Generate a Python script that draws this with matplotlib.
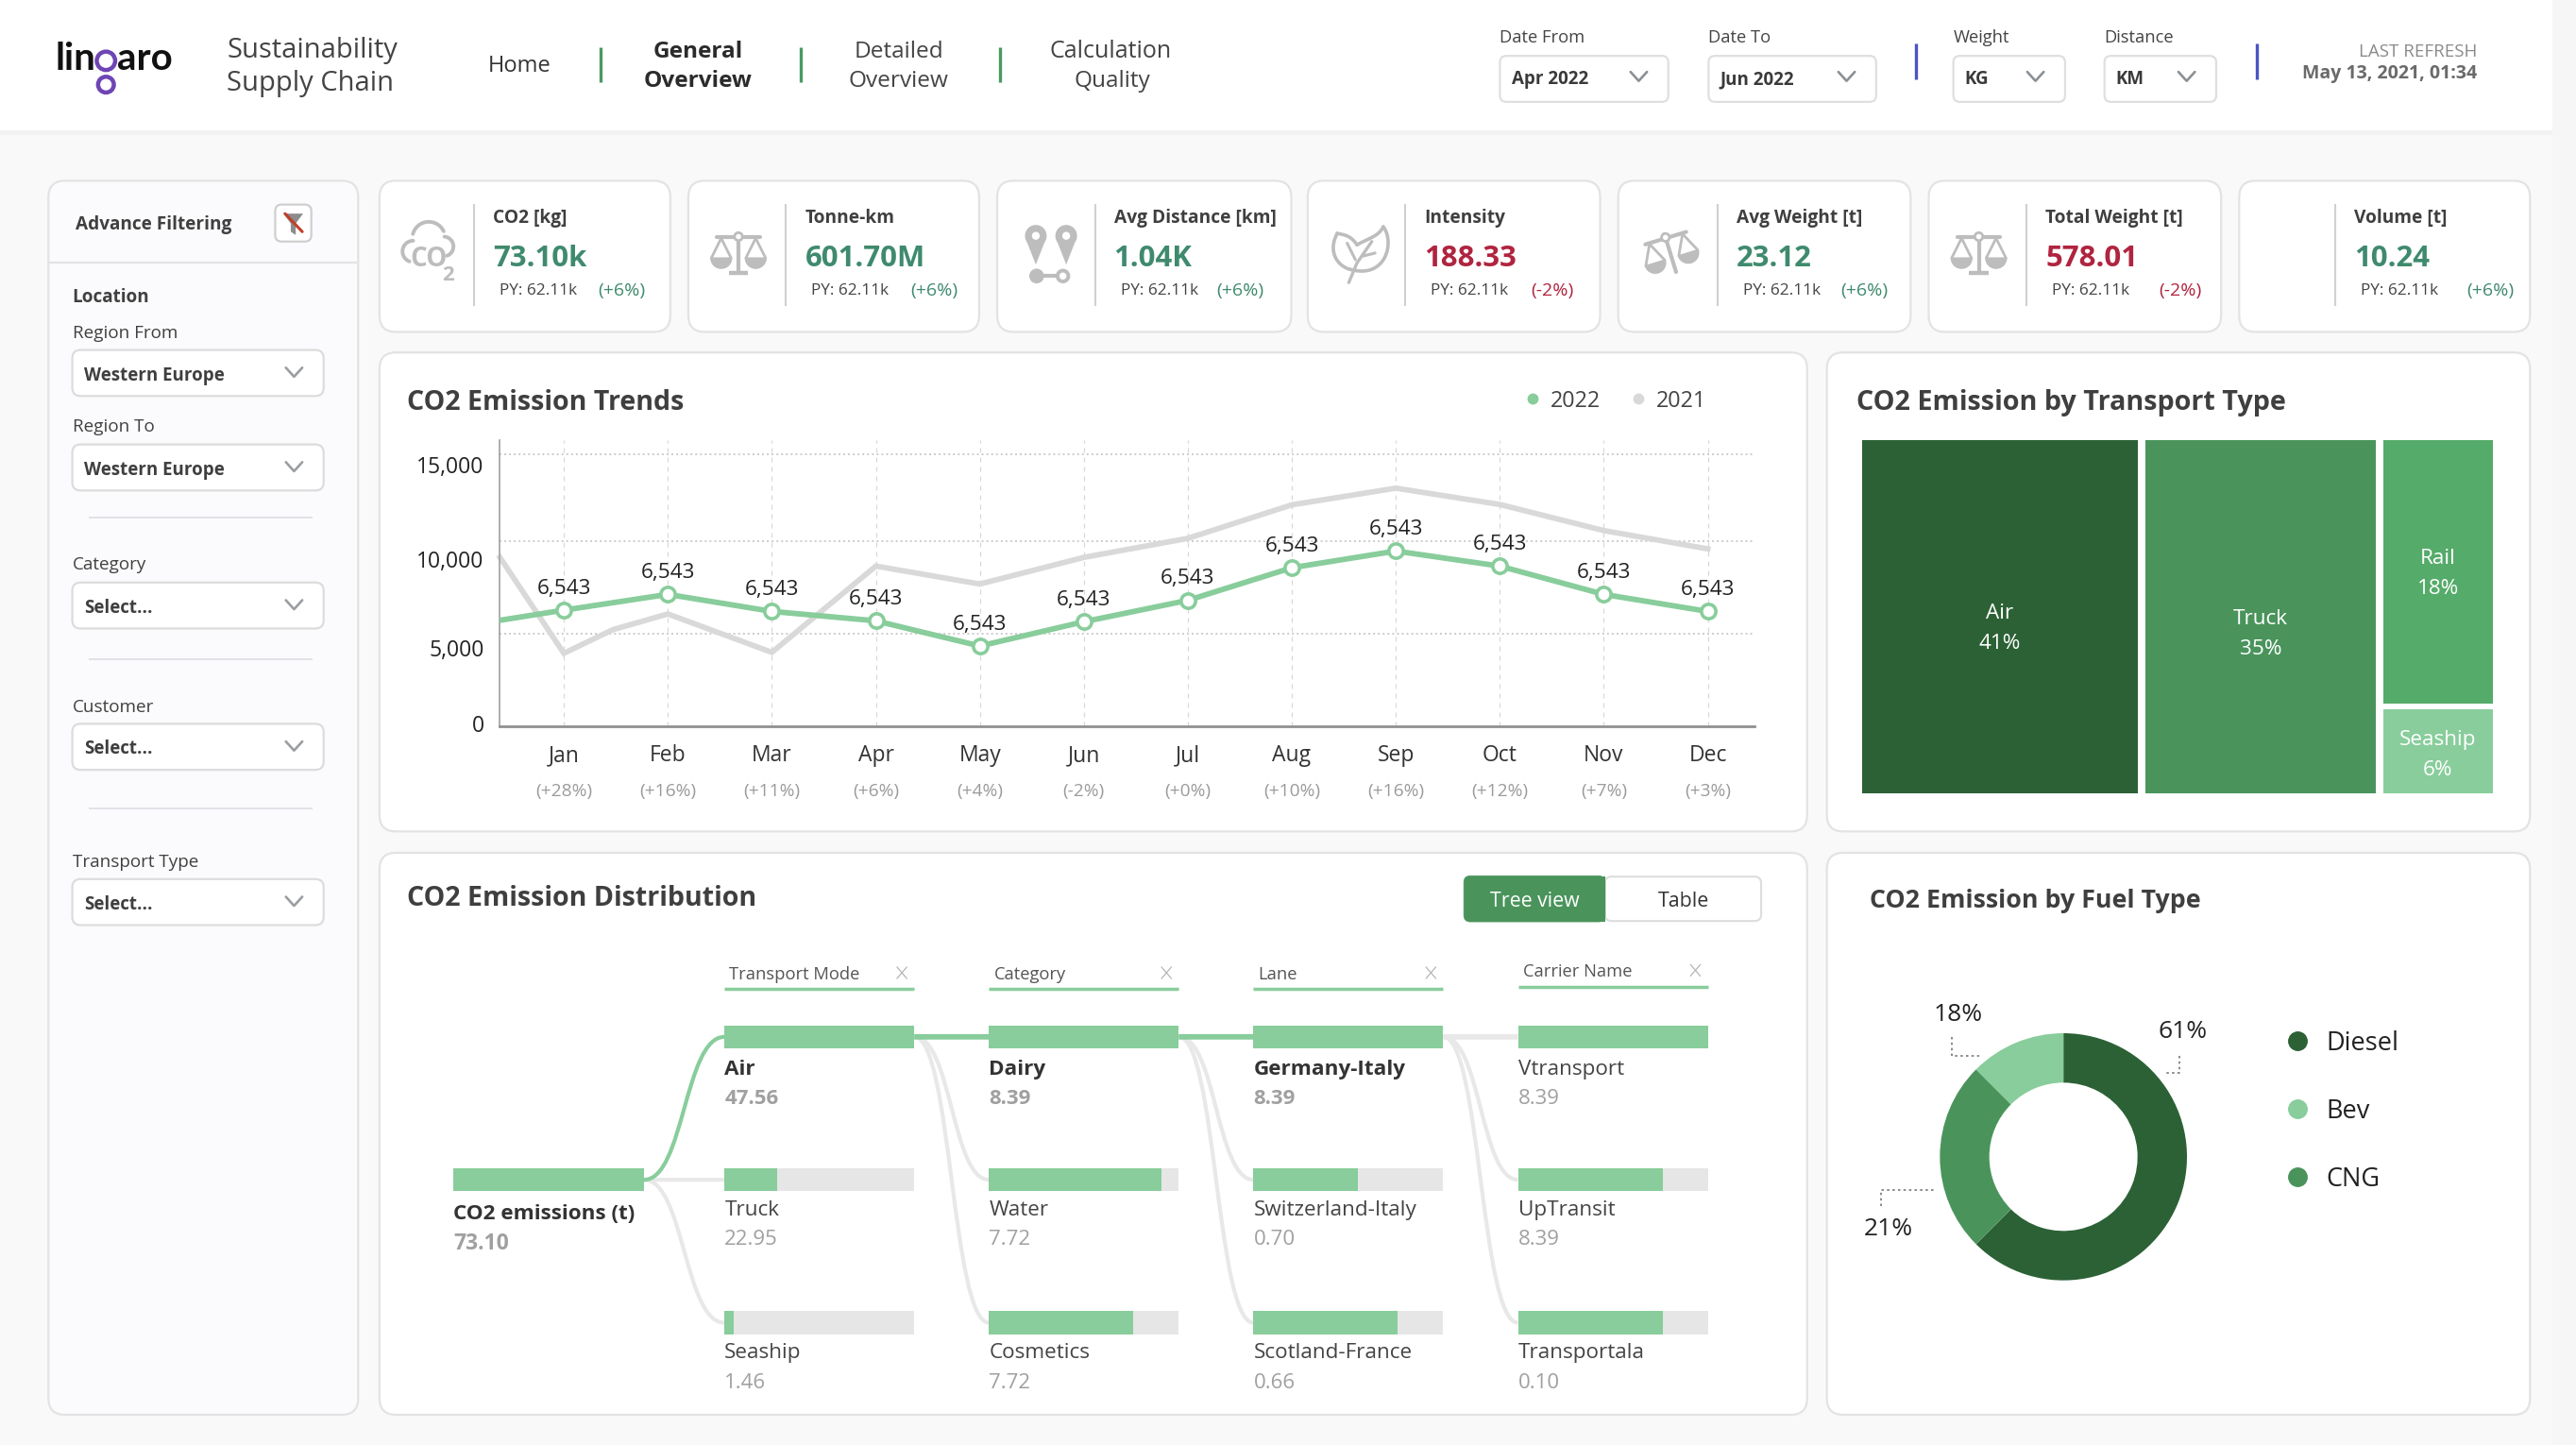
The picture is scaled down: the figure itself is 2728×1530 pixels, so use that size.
import numpy as np
import matplotlib
matplotlib.use("Agg")
import matplotlib.pyplot as plt
from matplotlib.patches import FancyBboxPatch, Circle, Rectangle, PathPatch, Polygon
from matplotlib.path import Path
from matplotlib.lines import Line2D

plt.rcParams['font.family'] = ['Open Sans', 'Noto Sans', 'DejaVu Sans']

# ---------- data ----------
months = ['Jan','Feb','Mar','Apr','May','Jun','Jul','Aug','Sep','Oct','Nov','Dec']
month_change = ['(+28%)','(+16%)','(+11%)','(+6%)','(+4%)','(-2%)','(+0%)','(+10%)','(+16%)','(+12%)','(+7%)','(+3%)']
x_2022 = [-0.615,0,1,2,3,4,5,6,7,8,9,10,11]
co2_2022 = [5830,6390,7260,6320,5800,4410,5750,6930,8730,9650,8820,7260,6320]
x_2021 = [-0.615,0,0.47,1,2,3,4,5,6,7,8,9,10,11]
co2_2021 = [9300,4010,5310,6180,4060,8820,7830,9300,10350,12200,13120,12220,10780,9770]
point_label = '6,543'
y_tick_pos = [150,4300,9220,14430]
y_tick_labels = ['0','5,000','10,000','15,000']
grid_vals = [5100,10200,15000]

tree_names = ['Air','Truck','Rail','Seaship']
tree_pct = ['41%','35%','18%','6%']
tree_area = [44.8,37.4,13.5,4.3]
tree_colors = ['#2c6135','#4a945c','#55ab69','#88cd9b']

fuel_names = ['Diesel','CNG','Bev']
fuel_pct = ['61%','21%','18%']
fuel_share = [62.5,25.0,12.5]
fuel_colors = ['#2c6135','#4a945c','#88cd9b']

kpi_titles = ['CO2 [kg]','Tonne-km','Avg Distance [km]','Intensity','Avg Weight [t]','Total Weight [t]','Volume [t]']
kpi_values = ['73.10k','601.70M','1.04K','188.33','23.12','578.01','10.24']
kpi_py = ['PY: 62.11k']*7
kpi_delta = ['(+6%)','(+6%)','(+6%)','(-2%)','(+6%)','(-2%)','(+6%)']

col_heads = ['Transport Mode','Category','Lane','Carrier Name']
col_names = [['Air','Truck','Seaship'],['Dairy','Water','Cosmetics'],
             ['Germany-Italy','Switzerland-Italy','Scotland-France'],['Vtransport','UpTransit','Transportala']]
col_vals = [['47.56','22.95','1.46'],['8.39','7.72','7.72'],['8.39','0.70','0.66'],['8.39','8.39','0.10']]
col_fill = [[1.0,0.277,0.049],[1.0,0.908,0.758],[1.0,0.55,0.758],[1.0,0.762,0.762]]

# ---------- canvas (overlay in 1568-wide layout units) ----------
W, H = 1568.0, 879.4
fig = plt.figure(figsize=(27.28,15.30), dpi=100, facecolor='#f9f9f9')
ov = fig.add_axes([0,0,1,1], zorder=0)
ov.set_xlim(0,W); ov.set_ylim(H,0); ov.axis('off')

GREEN='#88cd9b'; MID='#4a945c'; DARK='#3f3f3f'; BORDER='#e3e3e3'; GRAY='#bdbdbd'
UP='#3f8a6e'; DOWN='#b0243f'

def T(x,y,s,size=12,color=DARK,weight='normal',ha='left',va='center',ax=ov,**k):
    return ax.text(x,y+1.0,s,fontsize=size,color=color,fontweight=weight,ha=ha,va=va,**k)
def box(x0,y0,x1,y1,r=9,fc='white',ec=BORDER,lw=1.6,z=1):
    p=FancyBboxPatch((x0+r,y0+r),x1-x0-2*r,y1-y0-2*r,boxstyle=f'round,pad={r},rounding_size={r}',fc=fc,ec=ec,lw=lw,zorder=z)
    ov.add_patch(p); return p
def L(xs,ys,c=GRAY,lw=1.5,z=3,**k):
    ov.plot(xs,ys,color=c,lw=lw,zorder=z,solid_capstyle=k.pop('cap','round'),**k)
def chevron(x,y,w=5,h=5.5,c='#8b9095'):
    L([x-w,x,x+w],[y-h/2,y+h/2,y-h/2],c=c,lw=1.9)
def arc(cx,cy,r,a0,a1,c=GRAY,lw=2.8):
    a=np.radians(np.linspace(a0,a1,40))
    L(cx+r*np.cos(a),cy-r*np.sin(a),c=c,lw=lw)

# right strip + header
ov.add_patch(Rectangle((1553.5,0),W-1553.5,H,fc='#f6f6f6',ec='none',zorder=0))
ov.add_patch(Rectangle((0,0),1553.5,79.5,fc='white',ec='none',zorder=1))
ov.add_patch(Rectangle((0,79.5),1553.5,2.5,fc='#f2f2f2',ec='none',zorder=1))

# logo
T(33.5,35,'lin',29,'#111111',weight='bold',ha='left',family='Lato',zorder=4)
T(71.5,35,'aro',29,'#111111',weight='bold',ha='left',family='Lato',zorder=4)
for cy,r in ((37,5.6),(51.5,4.8)):
    ov.add_patch(Circle((64.5,cy),r,fc='none',ec='#6f45b5',lw=3.2,zorder=4))

T(138,30,'Sustainability',21,'#444444',zorder=4)
T(138,50,'Supply Chain',21,'#444444',zorder=4)
T(316,39.5,'Home',17,'#333333',ha='center',zorder=4)
T(425,30.5,'General',17.6,'#2b2b2b','bold',ha='center',zorder=4)
T(425,48.5,'Overview',17.6,'#2b2b2b','bold',ha='center',zorder=4)
T(547,30.5,'Detailed',17.6,'#444444',ha='center',zorder=4)
T(547,48.5,'Overview',17.6,'#444444',ha='center',zorder=4)
T(676,30.5,'Calculation',18,'#444444',ha='center',zorder=4)
T(677,48.5,'Quality',17.6,'#444444',ha='center',zorder=4)
for x in (365.5,487.5,608.5):
    L([x,x],[28.5,50],c='#4a9a60',lw=2.4,cap='butt')
for x in (1166,1373.5):
    L([x,x],[26.5,48],c='#4a55c0',lw=2.4,cap='butt')

for (x0,x1,lab,val) in ((913,1015.5,'Date From','Apr 2022'),(1040,1142,'Date To','Jun 2022'),
                        (1189,1257,'Weight','KG'),(1281,1349,'Distance','KM')):
    T(x0,22,lab,13.2,'#444444',zorder=4)
    box(x0,34,x1,62,r=4,ec='#dfdfdf')
    T(x0+7,47.5,val,13.5,'#3a3a3a','bold',zorder=4)
    chevron(x1-18,46.5,c='#8b9095')
T(1508,30.5,'LAST REFRESH',13.5,'#8a8a8a',ha='right',zorder=4)
T(1508,44,'May 13, 2021, 01:34',14,'#6a6a6a','bold',ha='right',zorder=4)

# sidebar
box(29.5,110,218,861,r=10,fc='#fbfbfd')
L([30,217.5],[160,160],c=BORDER,lw=1.6,cap='butt')
T(46,136,'Advance Filtering',13.7,'#404040','bold',zorder=4)
box(167.5,124.5,189.5,147,r=4,ec='#cfcfcf')
ov.add_patch(Polygon([(172.5,130),(184.5,130),(180,136),(180,143),(177,141),(177,136)],fc='#8c8c8c',ec='none',zorder=4))
L([173.5,184],[130,141],c='#c0402a',lw=2.2,z=5)
T(44,180,'Location',13.6,'#404040','bold',zorder=4)
for (lab,ly,val,y0) in (('Region From',202,'Western Europe',213),('Region To',259,'Western Europe',270.5),
                        ('Category',343,'Select...',354.5),('Customer',429.5,'Select...',440.5),
                        ('Transport Type',523.5,'Select...',535)):
    T(44,ly,lab,13.6,'#404040',zorder=4)
    box(44,y0,197,y0+28,r=5,ec='#dcdcdc')
    T(51,y0+14.5,val,13.5,'#3f3f3f','bold',zorder=4)
    chevron(179,y0+13.5,c='#9a9ea3')
for y in (315,401,492):
    L([54,190],[y,y],c='#dfe0e6',lw=1.3,cap='butt')

# KPI cards
card_x = [(231,408),(419,596),(607,786),(796,974),(985,1163),(1174,1352),(1363,1540)]
tx_x = [300,490,678,867,1057,1245,1433]
d_x  = [393,583,769,958,1149,1340,1530]
for i,(x0,x1) in enumerate(card_x):
    box(x0,110,x1,202,r=10)
    tx=tx_x[i]
    L([tx-11.5,tx-11.5],[124,186],c='#d0d0d0',lw=1.5,cap='butt')
    T(tx,132,kpi_titles[i],13.8,DARK,'bold',zorder=4)
    good = kpi_delta[i].startswith('(+')
    T(tx,156.5,kpi_values[i],22.4,UP if good else DOWN,'bold',zorder=4)
    T(tx+4,176,kpi_py[i],12.4,'#444444',zorder=4)
    T(d_x[i],176,kpi_delta[i],14,UP if good else DOWN,ha='right',zorder=4)

def scales(cx,cy,rot=0):
    c=GRAY
    a=np.radians(rot); R=np.array([[np.cos(a),-np.sin(a)],[np.sin(a),np.cos(a)]])
    def P(pts):
        q=np.array(pts,float)@R.T
        return q[:,0]+cx,q[:,1]+cy
    x,y=P([(0,-13),(0,11)]); L(x,y,c=c,lw=3)
    x,y=P([(-13,-10.5),(13,-10.5)]); L(x,y,c=c,lw=3)
    for sx in (-10.5,10.5):
        x,y=P([(sx-6,2),(sx,-10),(sx+6,2)]); L(x,y,c=c,lw=2)
        t=np.radians(np.linspace(0,180,20))
        pts=[(sx+6.3*np.cos(v),2+6.3*np.sin(v)) for v in t]
        x,y=P(pts); ov.fill(x,y,color=c,zorder=3)
    x,y=P([(0,-11)]); ov.add_patch(Circle((x[0],y[0]),2.4,fc='white',ec=c,lw=2,zorder=4))
    if rot==0: L([cx-6,cx+6],[cy+11,cy+11],c=c,lw=3.2,cap='butt')

# cloud
arc(251.5,153,6.5,90,250); arc(261,145,10,25,165); arc(270,150,6,-70,85)
T(261,157,'CO',20,GRAY,'bold',ha='center',zorder=4)
T(273,166.5,'2',16,GRAY,'bold',ha='center',zorder=4)
scales(449.5,155)
# pins
for cx in (630.5,649):
    ov.add_patch(Polygon([(cx-6.3,145),(cx+6.3,145),(cx,161)],fc=GRAY,ec='none',zorder=3))
    ov.add_patch(Circle((cx,143.5),6.6,fc=GRAY,ec='none',zorder=3))
    ov.add_patch(Circle((cx,143.5),2.4,fc='white',ec='none',zorder=4))
ov.add_patch(Circle((631,168),4.5,fc=GRAY,ec='none',zorder=3))
ov.add_patch(Circle((647,168),3.3,fc='white',ec=GRAY,lw=2.8,zorder=3))
L([631,644],[168,168],c=GRAY,lw=3)
# leaf
lx,ly=828,155
t=np.linspace(0,1,30)
def bez(p0,p1,p2,p3):
    p0,p1,p2,p3=map(np.array,(p0,p1,p2,p3))
    return np.outer((1-t)**3,p0)+np.outer(3*(1-t)**2*t,p1)+np.outer(3*(1-t)*t**2,p2)+np.outer(t**3,p3)
for pts in (((lx-6,ly+9),(lx+16,ly+15),(lx+21,ly-8),(lx+14,ly-17)),
            ((lx+14,ly-17),(lx+11,ly-11),(lx+5,ly-10),(lx-2,ly-6)),
            ((lx-2,ly-6),(lx-6,ly-12),(lx-10,ly-12),(lx-14,ly-13)),
            ((lx-14,ly-13),(lx-20,ly-2),(lx-14,ly+7),(lx-6,ly+9))):
    b=bez(*pts); L(b[:,0],b[:,1],c=GRAY,lw=2.6)
L([lx-7,lx-2,lx+7],[ly+17,ly+5,ly-8],c=GRAY,lw=2.4)
L([lx-8,lx-3],[ly-7,ly+3],c=GRAY,lw=2.2); L([lx+1,lx+9],[ly+1,ly-1],c=GRAY,lw=2.2)
scales(1017,155,rot=-17)
scales(1204.5,155)

# chart panels
box(231,214.5,1100,506,r=10)
box(1112,214.5,1540,506,r=10)
box(231,519,1100,861,r=10)
box(1112,519,1540,861,r=10)
T(248,244,'CO2 Emission Trends',20.6,DARK,'bold',zorder=4)
T(1130,244,'CO2 Emission by Transport Type',20.7,DARK,'bold',zorder=4)
T(248,546,'CO2 Emission Distribution',20.6,DARK,'bold',zorder=4)
T(1138,547.5,'CO2 Emission by Fuel Type',19.3,DARK,'bold',zorder=4)

def axes_at(x0,y0,x1,y1,z=2):
    a=fig.add_axes([x0/W,1-y1/H,(x1-x0)/W,(y1-y0)/H],zorder=z); a.patch.set_alpha(0); return a

# ---------- line chart ----------
ax=axes_at(304.3,267.9,1068,441.8)
ax.set_xlim(-0.615,11.45); ax.set_ylim(0,15766)
ax.vlines(range(12),0,15766,color='#d8d8d8',lw=0.9,ls=(0,(4,4)),zorder=1)
ax.hlines(grid_vals,-0.615,11.45,color='#cccccc',lw=1.4,ls=(0,(1,1.6)),zorder=1)
ax.plot(x_2021,co2_2021,color='#d9d9d9',lw=4.2,solid_joinstyle='miter',zorder=2,clip_on=False,label='2021')
ax.plot(x_2022,co2_2022,color=GREEN,lw=4.2,zorder=3,label='2022')
ax.plot(x_2022[1:],co2_2022[1:],ls='none',marker='o',ms=11,mfc='white',mec=GREEN,mew=2.6,zorder=4,clip_on=False)
for i,v in enumerate(co2_2022[1:]):
    ax.annotate(point_label,(i,v),xytext=(0,16.5),textcoords='offset points',ha='center',va='center',fontsize=16.2,color='#222222',zorder=5)
for s in ('top','right'): ax.spines[s].set_visible(False)
ax.spines['left'].set_color('#a0a0a0'); ax.spines['left'].set_linewidth(1.2)
ax.spines['bottom'].set_color('#909090'); ax.spines['bottom'].set_linewidth(2)
ax.set_yticks(y_tick_pos,y_tick_labels,fontsize=16.5,color='#222222')
ax.set_xticks(range(12),months,fontsize=16.5,color='#333333')
ax.tick_params(length=0); ax.tick_params(axis='y',pad=12); ax.tick_params(axis='x',pad=14)
for i,s in enumerate(month_change):
    ax.annotate(s,(i,0),xytext=(0,-50),textcoords='offset points',ha='center',va='center',fontsize=13.8,color='#9b9b9b',annotation_clip=False)
ax.legend(handles=[Line2D([],[],ls='none',marker='o',ms=7.5,color=GREEN,label='2022'),
                   Line2D([],[],ls='none',marker='o',ms=7.5,color='#d9d9d9',label='2021')],
          ncol=2,frameon=False,loc='center left',bbox_to_anchor=(926/W,1-244/H),bbox_transform=fig.transFigure,
          fontsize=16.8,labelcolor='#444444',handlelength=1.0,handletextpad=0.3,columnspacing=1.25,borderpad=0,borderaxespad=0)

# ---------- treemap ----------
tm=axes_at(1133.5,267.9,1517.4,482.8)
tm.axis('off'); tm.set_xlim(0,100); tm.set_ylim(0,100)
gap_x=100*4.6/383.9; gap_y=100*3.4/214.9
wtot=sum(tree_area)
avail=100-2*gap_x
w0=avail*tree_area[0]/wtot; w1=avail*tree_area[1]/wtot; w2=avail*(tree_area[2]+tree_area[3])/wtot
hr=(100-gap_y)*tree_area[3]/(tree_area[2]+tree_area[3])
cells=[(0,0,w0,100),(w0+gap_x,0,w1,100),(w0+w1+2*gap_x,hr+gap_y,w2,100-hr-gap_y),(w0+w1+2*gap_x,0,w2,hr)]
label_drop=[3.4,5.0,0.5,1.0]
for (x,y,w,h),n,p,c,d in zip(cells,tree_names,tree_pct,tree_colors,label_drop):
    tm.bar(x,h,w,y,align='edge',color=c,lw=0)
    tm.text(x+w/2,y+h/2-d+4.3,n,ha='center',va='center',color='white',fontsize=16.2)
    tm.text(x+w/2,y+h/2-d-4.3,p,ha='center',va='center',color='white',fontsize=16.2)

# ---------- donut ----------
cx,cy,R=1256,704,75.2
pa=axes_at(cx-R,cy-R,cx+R,cy+R)
pa.pie(fuel_share,colors=fuel_colors,startangle=90,counterclock=False,radius=1,
       wedgeprops=dict(width=0.4,lw=0),labels=None)
pa.set_xlim(-1,1); pa.set_ylim(-1,1); pa.set_aspect('equal')
order=[0,2,1]
pa.legend(handles=[Line2D([],[],ls='none',marker='o',ms=14,color=fuel_colors[k],label=fuel_names[k]) for k in order],
          frameon=False,loc='upper left',bbox_to_anchor=(1393/W,1-627/H),bbox_transform=fig.transFigure,
          fontsize=19.5,labelcolor='#222222',handletextpad=0.75,labelspacing=1.62,borderpad=0,borderaxespad=0,handlelength=0.72)
for s,(x,y) in zip(fuel_pct,((1328.7,627),(1149.4,747.3),(1192,616.5))):
    T(x,y,s,19,'#222222',ha='center',zorder=4)
for xs,ys in (([1188.3,1188.3,1204.7],[631.2,642.6,642.6]),([1326.6,1326.6,1317.4],[642.6,653,653]),([1145,1145,1178],[734,724,724])):
    ov.plot(xs,ys,color='#777777',lw=1.2,ls=(0,(1.5,2)),zorder=3)

# ---------- tree view ----------
ov.add_patch(FancyBboxPatch((977,533.5),95,27,boxstyle='round,pad=0,rounding_size=4',fc='white',ec='#dddddd',lw=1.5,zorder=2))
box(891,533,977,561,r=4,fc=MID,ec=MID,lw=0.5,z=3)
ov.add_patch(Rectangle((968,533.2),9,27.6,fc=MID,ec='none',zorder=3))
T(934,547.5,'Tree view',15.4,'white',ha='center',zorder=4)
T(1025,547.5,'Table',15.4,'#333333',ha='center',zorder=4)

col_x=[441,602,763,924]; col_w=115.5
rows=[631,718,805]
hh_y=[592,592,592,590.5]; ul_y=[602,602,602,600.5]
for j,h in enumerate(col_heads):
    T(col_x[j]+3,hh_y[j],h,13.2,'#555555',zorder=4)
    L([col_x[j],col_x[j]+col_w],[ul_y[j]]*2,c=GREEN,lw=2.5,cap='butt')
    xx=col_x[j]+108; yy=hh_y[j]
    L([xx-3,xx+3],[yy-3.5,yy+3.5],c='#b5b5b5',lw=0.9); L([xx-3,xx+3],[yy+3.5,yy-3.5],c='#b5b5b5',lw=0.9)

def link(x0,y0,x1,y1,c,lw=3.0):
    d=(x1-x0)*0.5
    v=[(x0,y0),(x0+d,y0),(x1-d,y1),(x1,y1)]
    ov.add_patch(PathPatch(Path(v,[Path.MOVETO,Path.CURVE4,Path.CURVE4,Path.CURVE4]),fc='none',ec=c,lw=lw,zorder=2,capstyle='butt'))

LG='#e8e8e8'
rx0,rx1=276,392
link(rx1,rows[1],col_x[0],rows[1],LG); link(rx1,rows[1],col_x[0],rows[2],LG); link(rx1,rows[1],col_x[0],rows[0],GREEN)
for j in range(3):
    x0=col_x[j]+col_w; x1=col_x[j+1]
    link(x0,rows[0],x1,rows[1],LG); link(x0,rows[0],x1,rows[2],LG)
    link(x0,rows[0],x1,rows[0],GREEN if j<2 else LG,lw=4.2)
ov.barh(rows[1],rx1-rx0,14,left=rx0,color=GREEN,lw=0,zorder=3)
T(276,738,'CO2 emissions (t)',16.2,'#333333','bold',zorder=4)
T(276,756,'73.10',16.5,'#a0a0a0','bold',zorder=4)
for j in range(4):
    for r in range(3):
        y=rows[r]
        ov.barh(y,col_w,14,left=col_x[j],color='#e6e6e6',lw=0,zorder=3)
        ov.barh(y,col_w*col_fill[j][r],14,left=col_x[j],color=GREEN,lw=0,zorder=3)
        top = (r==0 and j<3)
        ny={0:650,1:735.5,2:822.5}[r]; vy={0:668,1:753.5,2:841}[r]
        T(col_x[j],ny,col_names[j][r],16.2,'#333333' if top else '#444444','bold' if top else 'normal',zorder=4)
        T(col_x[j],vy,col_vals[j][r],16,'#a0a0a0','bold' if top else 'normal',zorder=4)

fig.savefig('out.png',dpi=100,facecolor=fig.get_facecolor())
